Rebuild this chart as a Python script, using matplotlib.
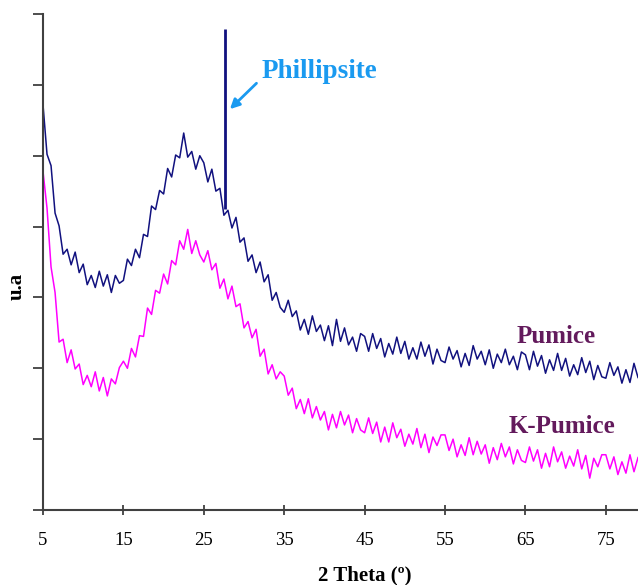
import numpy as np
import matplotlib
matplotlib.use("Agg")
from matplotlib import pyplot as plt

# XRD patterns, 2 theta step 0.5 deg (5 -> 79)
two_theta = np.arange(5.0, 79.01, 0.5)

pumice = [572, 502, 486, 419, 401, 361, 368, 346, 364, 335,
          347, 318, 331, 314, 337, 316, 332, 307, 331, 320,
          324, 354, 345, 368, 356, 389, 386, 429, 424, 451,
          446, 482, 470, 501, 497, 532, 498, 506, 481, 500,
          490, 463, 481, 450, 454, 416, 423, 398, 413, 378,
          384, 351, 360, 335, 350, 322, 332, 296, 307, 286,
          279, 296, 273, 281, 254, 269, 248, 274, 252, 261,
          239, 260, 232, 269, 238, 257, 233, 244, 224, 249,
          245, 224, 249, 228, 242, 216, 235, 220, 244, 221,
          238, 213, 229, 213, 237, 217, 233, 206, 227, 211,
          208, 230, 213, 225, 202, 221, 204, 232, 213, 224,
          205, 226, 200, 220, 208, 227, 205, 217, 198, 223,
          219, 198, 224, 203, 218, 193, 212, 197, 221, 197,
          214, 189, 205, 191, 215, 194, 210, 184, 204, 188,
          186, 208, 190, 202, 179, 198, 180, 207, 187]

k_pumice = [478, 426, 343, 307, 237, 241, 208, 226, 199, 206,
            177, 190, 174, 195, 168, 187, 161, 185, 178, 201,
            210, 200, 228, 216, 246, 245, 285, 276, 310, 306,
            333, 319, 352, 346, 380, 368, 396, 362, 380, 360,
            350, 366, 339, 348, 313, 326, 298, 316, 287, 291,
            257, 266, 243, 255, 217, 227, 192, 205, 185, 195,
            189, 162, 172, 143, 156, 136, 157, 130, 146, 127,
            139, 113, 135, 116, 139, 120, 134, 109, 129, 113,
            109, 130, 108, 124, 96, 117, 96, 123, 102, 114,
            90, 107, 93, 115, 88, 107, 81, 103, 91, 106,
            106, 84, 100, 75, 92, 77, 102, 78, 97, 79,
            92, 66, 88, 71, 94, 75, 89, 65, 85, 70,
            67, 89, 69, 85, 59, 80, 61, 89, 68, 82,
            59, 76, 62, 85, 58, 77, 45, 73, 61, 78,
            78, 58, 75, 50, 68, 52, 78, 54, 74]

# Phillipsite reflection: position, base and top of the spike
phil_pos = 27.6
phil_base = 425
phil_top = 679

xticks = [5, 15, 25, 35, 45, 55, 65, 75]

navy = "#11117f"
magenta = "#ff00ff"
label_col = "#631a5c"
blue = "#1a9af0"

plt.rcParams["font.family"] = ["Liberation Serif", "DejaVu Serif"]

fig = plt.figure(figsize=(6.38, 5.85), dpi=100)
ax = fig.add_axes([43 / 638, 75 / 585, 595 / 638, 496 / 585])

ax.plot(two_theta, pumice, color=navy, lw=1.1)
ax.plot(two_theta, k_pumice, color=magenta, lw=1.1)
ax.vlines(phil_pos, phil_base, phil_top, color=navy, lw=2)

ax.set_xlim(5, 79)
ax.set_ylim(0, 700)
ax.set_xticks(xticks)
ax.set_yticks(np.arange(0, 701, 100))
ax.set_yticklabels([])

for s in ["top", "right"]:
    ax.spines[s].set_visible(False)
for s in ["left", "bottom"]:
    ax.spines[s].set_color("#404040")
    ax.spines[s].set_linewidth(1.5)
ax.tick_params(axis="x", direction="inout", length=7, width=1.3,
               color="#404040", labelsize=13.5, pad=12)
ax.tick_params(axis="y", direction="out", length=7, width=1.3,
               color="#404040")

ax.set_xlabel("2 Theta (º)", fontsize=15, fontweight="bold")
ax.xaxis.set_label_coords(0.541, -0.112)
ax.set_ylabel("u.a", fontsize=15, fontweight="bold")
ax.yaxis.set_label_coords(-0.027, 0.45)

ax.text(32.2, 610, "Phillipsite", color=blue, fontsize=19.5,
        fontweight="bold", ha="left", va="baseline")
ax.annotate("", xy=(28.0, 563), xytext=(31.8, 605),
            arrowprops=dict(arrowstyle="-|>", color=blue, lw=2,
                            mutation_scale=14))

ax.text(68.8, 245, "Pumice", color=label_col, fontsize=18,
        fontweight="bold", ha="center", va="center")
ax.text(69.6, 118, "K-Pumice", color=label_col, fontsize=18,
        fontweight="bold", ha="center", va="center")

fig.savefig("out.png", dpi=100)
